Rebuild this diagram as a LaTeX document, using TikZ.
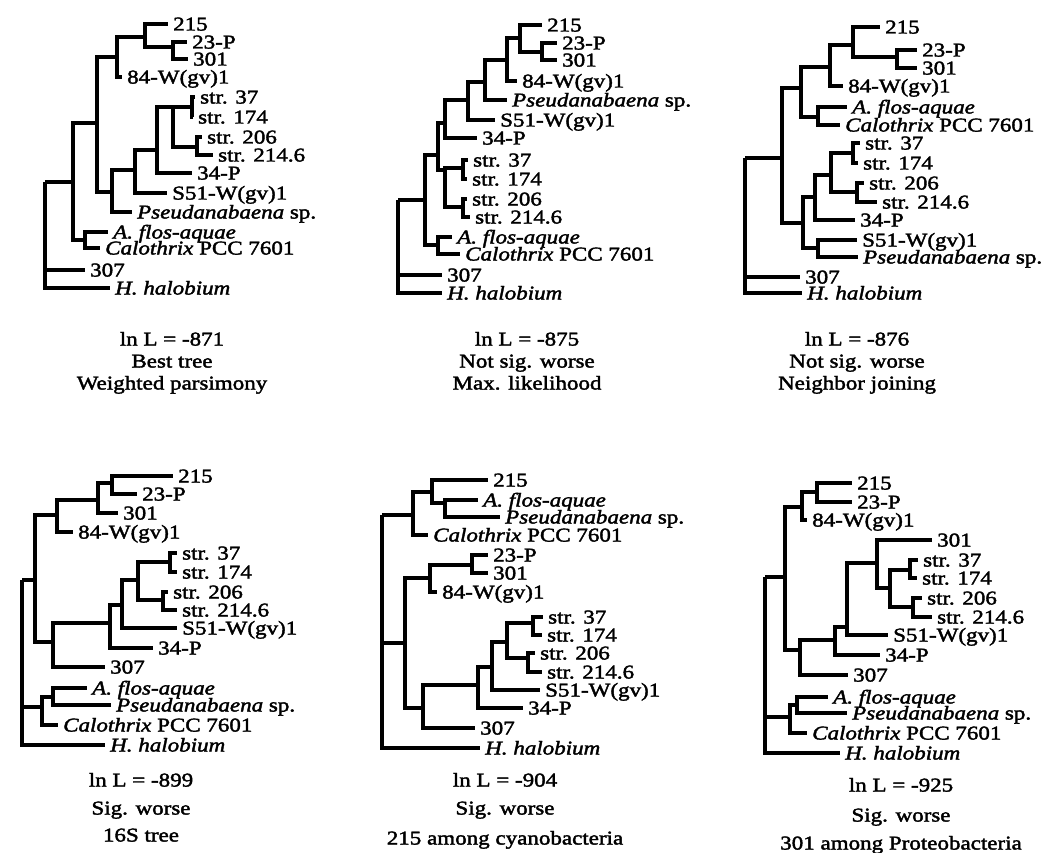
\documentclass[tikz,border=0pt]{standalone}
\usepackage{fontspec}
\setmainfont{Liberation Serif}[FakeStretch=1.18, FakeBold=2]
\newcommand\labfont{\fontsize{19.5}{22}\selectfont}

\begin{document}
\begin{tikzpicture}[x=1pt, y=-1pt,
  branch/.style={line width=3.2pt},
  leaf/.style={anchor=west, inner xsep=5pt, inner ysep=0pt, text height=13pt, text depth=0pt, font=\labfont},
  capline/.style={inner sep=0pt, text height=13pt, text depth=0pt, font=\labfont}]
\useasboundingbox (0,0) rectangle (1051,853);

% Weighted parsimony
\coordinate (w0) at (45,182);
\coordinate (w1) at (73,182);
\coordinate (w2) at (97,123);
\coordinate (w3) at (117,57);
\coordinate (w4) at (145,37);
\coordinate (w5) at (173,47);
\coordinate (w6) at (112,192);
\coordinate (w7) at (135,170);
\coordinate (w8) at (157,150);
\coordinate (w9) at (173,107);
\coordinate (w10) at (192,107);
\coordinate (w11) at (197,147);
\coordinate (w12) at (85,240);
\node[leaf] (w215) at (168,24) {215};
\node[leaf] (w23P) at (187,42) {23-P};
\node[leaf] (w301) at (188,59) {301};
\node[leaf] (w84) at (122,77) {84-W(gv)1};
\node[leaf] (w37) at (195,97) {str. 37};
\node[leaf] (w174) at (193,117) {str. 174};
\node[leaf] (w206) at (202,137) {str. 206};
\node[leaf] (w214) at (213,155) {str. 214.6};
\node[leaf] (w34P) at (192,173) {34-P};
\node[leaf] (wS51) at (167,193) {S51-W(gv)1};
\node[leaf] (wPs) at (132,212) {\textit{Pseudanabaena} sp.};
\node[leaf] (wAf) at (108,232) {\textit{A. flos-aquae}};
\node[leaf] (wCal) at (100,248) {\textit{Calothrix} PCC 7601};
\node[leaf] (w307) at (85,270) {307};
\node[leaf] (wHh) at (110,288) {\textit{H. halobium}};
\draw[branch] (w0) |- (w1) (w0) |- (w307) (w0) |- (wHh);
\draw[branch] (w1) |- (w2) (w1) |- (w12);
\draw[branch] (w2) |- (w3) (w2) |- (w6);
\draw[branch] (w3) |- (w4) (w3) |- (w84);
\draw[branch] (w4) |- (w215) (w4) |- (w5);
\draw[branch] (w5) |- (w23P) (w5) |- (w301);
\draw[branch] (w6) |- (w7) (w6) |- (wPs);
\draw[branch] (w7) |- (w8) (w7) |- (wS51);
\draw[branch] (w8) |- (w9) (w8) |- (w34P);
\draw[branch] (w9) |- (w10) (w9) |- (w11);
\draw[branch] (w10) |- (w37) (w10) |- (w174);
\draw[branch] (w11) |- (w206) (w11) |- (w214);
\draw[branch] (w12) |- (wAf) (w12) |- (wCal);
\node[capline] (wl1) at (172,339) {ln L = -871};
\node[capline] (wl2) at (172,361) {Best tree};
\node[capline] (wl3) at (172,383) {Weighted parsimony};

% Max. likelihood
\coordinate (m0) at (398,200);
\coordinate (m1) at (425,200);
\coordinate (m2) at (438,155);
\coordinate (m3) at (445,123);
\coordinate (m4) at (468,100);
\coordinate (m5) at (485,82);
\coordinate (m6) at (507,60);
\coordinate (m7) at (520,38);
\coordinate (m8) at (542,52);
\coordinate (m9) at (445,170);
\coordinate (m10) at (463,168);
\coordinate (m11) at (463,207);
\coordinate (m12) at (438,245);
\node[leaf] (m215) at (542,25) {215};
\node[leaf] (m23P) at (557,43) {23-P};
\node[leaf] (m301) at (557,60) {301};
\node[leaf] (m84) at (517,81) {84-W(gv)1};
\node[leaf] (mPs) at (507,100) {\textit{Pseudanabaena} sp.};
\node[leaf] (mS51) at (495,120) {S51-W(gv)1};
\node[leaf] (m34P) at (477,138) {34-P};
\node[leaf] (m37) at (468,160) {str. 37};
\node[leaf] (m174) at (467,179) {str. 174};
\node[leaf] (m206) at (467,199) {str. 206};
\node[leaf] (m214) at (470,217) {str. 214.6};
\node[leaf] (mAf) at (452,237) {\textit{A. flos-aquae}};
\node[leaf] (mCal) at (460,254) {\textit{Calothrix} PCC 7601};
\node[leaf] (m307) at (442,275) {307};
\node[leaf] (mHh) at (442,293) {\textit{H. halobium}};
\draw[branch] (m0) |- (m1) (m0) |- (m307) (m0) |- (mHh);
\draw[branch] (m1) |- (m2) (m1) |- (m12);
\draw[branch] (m2) |- (m3) (m2) |- (m9);
\draw[branch] (m3) |- (m4) (m3) |- (m34P);
\draw[branch] (m4) |- (m5) (m4) |- (mS51);
\draw[branch] (m5) |- (m6) (m5) |- (mPs);
\draw[branch] (m6) |- (m7) (m6) |- (m84);
\draw[branch] (m7) |- (m215) (m7) |- (m8);
\draw[branch] (m8) |- (m23P) (m8) |- (m301);
\draw[branch] (m9) |- (m10) (m9) |- (m11);
\draw[branch] (m10) |- (m37) (m10) |- (m174);
\draw[branch] (m11) |- (m206) (m11) |- (m214);
\draw[branch] (m12) |- (mAf) (m12) |- (mCal);
\node[capline] (ml1) at (527,339) {ln L = -875};
\node[capline] (ml2) at (527,361) {Not sig. worse};
\node[capline] (ml3) at (527,383) {Max. likelihood};

% Neighbor joining
\coordinate (j0) at (745,158);
\coordinate (j1) at (782,158);
\coordinate (j2) at (801,88);
\coordinate (j3) at (830,67);
\coordinate (j4) at (853,45);
\coordinate (j5) at (897,57);
\coordinate (j8) at (818,117);
\coordinate (j9) at (803,223);
\coordinate (j10) at (815,197);
\coordinate (j11) at (831,175);
\coordinate (j12) at (853,153);
\coordinate (j13) at (857,192);
\coordinate (j14) at (818,248);
\node[leaf] (j215) at (880,27) {215};
\node[leaf] (j23P) at (917,50) {23-P};
\node[leaf] (j301) at (917,68) {301};
\node[leaf] (j84) at (843,86) {84-W(gv)1};
\node[leaf] (jAf) at (847,107) {\textit{A. flos-aquae}};
\node[leaf] (jCal) at (840,125) {\textit{Calothrix} PCC 7601};
\node[leaf] (j37) at (860,143) {str. 37};
\node[leaf] (j174) at (858,163) {str. 174};
\node[leaf] (j206) at (864,183) {str. 206};
\node[leaf] (j214) at (877,202) {str. 214.6};
\node[leaf] (j34P) at (855,220) {34-P};
\node[leaf] (jS51) at (857,240) {S51-W(gv)1};
\node[leaf] (jPs) at (858,257) {\textit{Pseudanabaena} sp.};
\node[leaf] (j307) at (800,277) {307};
\node[leaf] (jHh) at (802,293) {\textit{H. halobium}};
\draw[branch] (j0) |- (j1) (j0) |- (j307) (j0) |- (jHh);
\draw[branch] (j1) |- (j2) (j1) |- (j9);
\draw[branch] (j2) |- (j3) (j2) |- (j8);
\draw[branch] (j3) |- (j4) (j3) |- (j84);
\draw[branch] (j4) |- (j215) (j4) |- (j5);
\draw[branch] (j5) |- (j23P) (j5) |- (j301);
\draw[branch] (j8) |- (jAf) (j8) |- (jCal);
\draw[branch] (j9) |- (j10) (j9) |- (j14);
\draw[branch] (j10) |- (j11) (j10) |- (j34P);
\draw[branch] (j11) |- (j12) (j11) |- (j13);
\draw[branch] (j12) |- (j37) (j12) |- (j174);
\draw[branch] (j13) |- (j206) (j13) |- (j214);
\draw[branch] (j14) |- (jS51) (j14) |- (jPs);
\node[capline] (jl1) at (857,339) {ln L = -876};
\node[capline] (jl2) at (857,361) {Not sig. worse};
\node[capline] (jl3) at (857,383) {Neighbor joining};

% 16S tree
\coordinate (s0) at (22,580);
\coordinate (s1) at (35,580);
\coordinate (s2) at (57,515);
\coordinate (s3) at (98,500);
\coordinate (s4) at (112,483);
\coordinate (s7) at (53,642);
\coordinate (s8) at (110,623);
\coordinate (s9) at (122,605);
\coordinate (s10) at (138,580);
\coordinate (s11) at (170,562);
\coordinate (s13) at (163,600);
\coordinate (s12) at (42,707);
\coordinate (s14) at (53,697);
\node[leaf] (s215) at (173,476) {215};
\node[leaf] (s23P) at (137,494) {23-P};
\node[leaf] (s301) at (118,513) {301};
\node[leaf] (s84) at (73,532) {84-W(gv)1};
\node[leaf] (s37) at (177,553) {str. 37};
\node[leaf] (s174) at (177,572) {str. 174};
\node[leaf] (s206) at (168,592) {str. 206};
\node[leaf] (s214) at (177,610) {str. 214.6};
\node[leaf] (sS51) at (177,628) {S51-W(gv)1};
\node[leaf] (s34P) at (153,648) {34-P};
\node[leaf] (s307) at (105,667) {307};
\node[leaf] (sAf) at (87,688) {\textit{A. flos-aquae}};
\node[leaf] (sPs) at (111,705) {\textit{Pseudanabaena} sp.};
\node[leaf] (sCal) at (58,725) {\textit{Calothrix} PCC 7601};
\node[leaf] (sHh) at (105,745) {\textit{H. halobium}};
\draw[branch] (s0) |- (s1) (s0) |- (s12) (s0) |- (sHh);
\draw[branch] (s1) |- (s2) (s1) |- (s7);
\draw[branch] (s2) |- (s3) (s2) |- (s84);
\draw[branch] (s3) |- (s4) (s3) |- (s301);
\draw[branch] (s4) |- (s215) (s4) |- (s23P);
\draw[branch] (s7) |- (s8) (s7) |- (s307);
\draw[branch] (s8) |- (s9) (s8) |- (s34P);
\draw[branch] (s9) |- (s10) (s9) |- (sS51);
\draw[branch] (s10) |- (s11) (s10) |- (s13);
\draw[branch] (s11) |- (s37) (s11) |- (s174);
\draw[branch] (s13) |- (s206) (s13) |- (s214);
\draw[branch] (s12) |- (s14) (s12) |- (sCal);
\draw[branch] (s14) |- (sAf) (s14) |- (sPs);
\node[capline] (sl1) at (141,780) {ln L = -899};
\node[capline] (sl2) at (141,808) {Sig. worse};
\node[capline] (sl3) at (141,835) {16S tree};

% 215 among cyanobacteria
\coordinate (c0) at (382,515);
\coordinate (c1) at (413,515);
\coordinate (c2) at (432,492);
\coordinate (c3) at (445,503);
\coordinate (c5) at (405,643);
\coordinate (c6) at (430,578);
\coordinate (c7) at (472,565);
\coordinate (c8) at (423,708);
\coordinate (c9) at (478,685);
\coordinate (c10) at (492,667);
\coordinate (c11) at (507,642);
\coordinate (c12) at (533,623);
\coordinate (c13) at (528,658);
\node[leaf] (c215) at (488,480) {215};
\node[leaf] (cAf) at (478,500) {\textit{A. flos-aquae}};
\node[leaf] (cPs) at (500,517) {\textit{Pseudanabaena} sp.};
\node[leaf] (cCal) at (428,535) {\textit{Calothrix} PCC 7601};
\node[leaf] (c23P) at (488,555) {23-P};
\node[leaf] (c301) at (488,573) {301};
\node[leaf] (c84) at (437,592) {84-W(gv)1};
\node[leaf] (c37) at (543,617) {str. 37};
\node[leaf] (c174) at (542,635) {str. 174};
\node[leaf] (c206) at (535,653) {str. 206};
\node[leaf] (c214) at (542,672) {str. 214.6};
\node[leaf] (cS51) at (540,690) {S51-W(gv)1};
\node[leaf] (c34P) at (523,708) {34-P};
\node[leaf] (c307) at (475,728) {307};
\node[leaf] (cHh) at (480,748) {\textit{H. halobium}};
\draw[branch] (c0) |- (c1) (c0) |- (c5) (c0) |- (cHh);
\draw[branch] (c1) |- (c2) (c1) |- (cCal);
\draw[branch] (c2) |- (c215) (c2) |- (c3);
\draw[branch] (c3) |- (cAf) (c3) |- (cPs);
\draw[branch] (c5) |- (c6) (c5) |- (c8);
\draw[branch] (c6) |- (c7) (c6) |- (c84);
\draw[branch] (c7) |- (c23P) (c7) |- (c301);
\draw[branch] (c8) |- (c9) (c8) |- (c307);
\draw[branch] (c9) |- (c10) (c9) |- (c34P);
\draw[branch] (c10) |- (c11) (c10) |- (cS51);
\draw[branch] (c11) |- (c12) (c11) |- (c13);
\draw[branch] (c12) |- (c37) (c12) |- (c174);
\draw[branch] (c13) |- (c206) (c13) |- (c214);
\node[capline] (cl1) at (505,780) {ln L = -904};
\node[capline] (cl2) at (505,808) {Sig. worse};
\node[capline] (cl3) at (505,838) {215 among cyanobacteria};

% 301 among Proteobacteria
\coordinate (p0) at (765,577);
\coordinate (p1) at (785,577);
\coordinate (p2) at (802,507);
\coordinate (p3) at (817,492);
\coordinate (p4) at (800,650);
\coordinate (p5) at (835,640);
\coordinate (p6) at (847,627);
\coordinate (p7) at (877,563);
\coordinate (p8) at (890,588);
\coordinate (p9) at (910,570);
\coordinate (p10) at (913,607);
\coordinate (p11) at (790,717);
\coordinate (p12) at (797,705);
\node[leaf] (p215) at (852,483) {215};
\node[leaf] (p23P) at (852,502) {23-P};
\node[leaf] (p84) at (807,520) {84-W(gv)1};
\node[leaf] (p301) at (932,540) {301};
\node[leaf] (p37) at (918,560) {str. 37};
\node[leaf] (p174) at (917,578) {str. 174};
\node[leaf] (p206) at (922,598) {str. 206};
\node[leaf] (p214) at (932,617) {str. 214.6};
\node[leaf] (pS51) at (888,635) {S51-W(gv)1};
\node[leaf] (p34P) at (880,655) {34-P};
\node[leaf] (p307) at (848,675) {307};
\node[leaf] (pAf) at (828,697) {\textit{A. flos-aquae}};
\node[leaf] (pPs) at (847,713) {\textit{Pseudanabaena} sp.};
\node[leaf] (pCal) at (807,733) {\textit{Calothrix} PCC 7601};
\node[leaf] (pHh) at (840,753) {\textit{H. halobium}};
\draw[branch] (p0) |- (p1) (p0) |- (p11) (p0) |- (pHh);
\draw[branch] (p1) |- (p2) (p1) |- (p4);
\draw[branch] (p2) |- (p3) (p2) |- (p84);
\draw[branch] (p3) |- (p215) (p3) |- (p23P);
\draw[branch] (p4) |- (p5) (p4) |- (p307);
\draw[branch] (p5) |- (p6) (p5) |- (p34P);
\draw[branch] (p6) |- (p7) (p6) |- (pS51);
\draw[branch] (p7) |- (p301) (p7) |- (p8);
\draw[branch] (p8) |- (p9) (p8) |- (p10);
\draw[branch] (p9) |- (p37) (p9) |- (p174);
\draw[branch] (p10) |- (p206) (p10) |- (p214);
\draw[branch] (p11) |- (p12) (p11) |- (pCal);
\draw[branch] (p12) |- (pAf) (p12) |- (pPs);
\node[capline] (pl1) at (901,785) {ln L = -925};
\node[capline] (pl2) at (901,815) {Sig. worse};
\node[capline] (pl3) at (901,843) {301 among Proteobacteria};
\end{tikzpicture}
\end{document}
